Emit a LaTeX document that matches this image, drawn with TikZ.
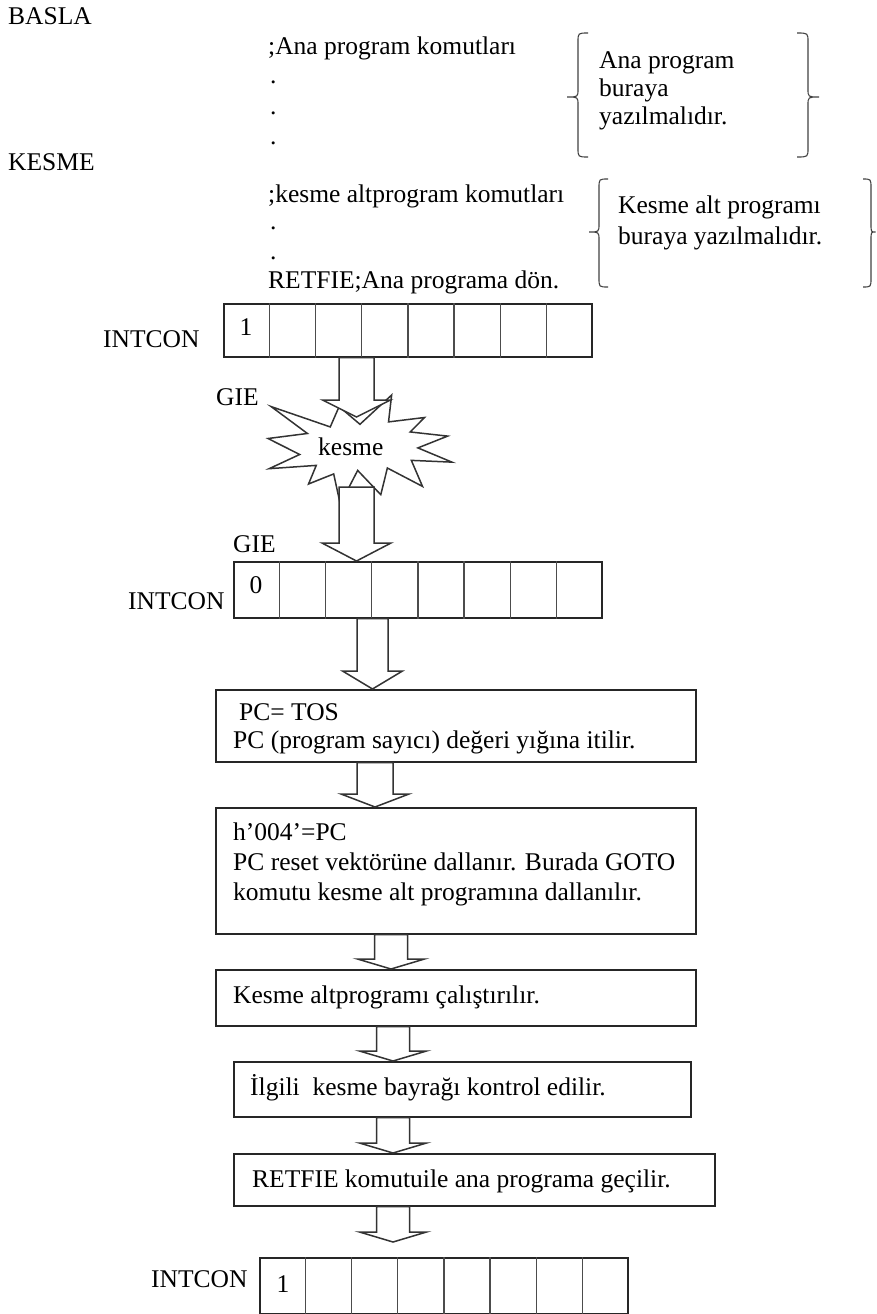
\documentclass[tikz,border=0pt]{standalone}
\usepackage{fontspec}
\setmainfont{Liberation Serif}
\usetikzlibrary{calc}

% hollow block arrow: x, start point, tip point, shaft half width, head half width, head length
\newcommand\blockarrow[6]{%
  \draw[hollow] let \p1=(#2), \p2=(#3) in
    (#1pt-#4pt,\y1) -- (#1pt+#4pt,\y1) -- (#1pt+#4pt,\y2+#6pt) -- (#1pt+#5pt,\y2+#6pt)
    -- (#1pt,\y2) -- (#1pt-#5pt,\y2+#6pt) -- (#1pt-#4pt,\y2+#6pt) -- cycle;}

% curly bracket: tip x, stem x, hook x, top y, middle y, bottom y
\newcommand\curlybr[6]{%
  \draw[bracket] (#3,#4) .. controls (#2,#4) .. (#2,#4+9) -- (#2,#5-8)
    .. controls (#2,#5) .. (#1,#5) .. controls (#2,#5) .. (#2,#5+8)
    -- (#2,#6-9) .. controls (#2,#6) .. (#3,#6);}

\begin{document}
\begin{tikzpicture}[x=1pt,y=-1pt,
  txt/.style={inner sep=0pt, anchor=base west, font=\fontsize{25.5}{30}\selectfont},
  digit/.style={inner sep=0pt, anchor=base, font=\fontsize{25.5}{30}\selectfont},
  box/.style={draw=black!85, line width=1.6pt, inner sep=0pt, anchor=north west},
  reg/.style={draw=black!85, line width=1.6pt, inner sep=0pt, anchor=north west,
    minimum width=368pt, minimum height=#1},
  cell/.style={draw=black!70, line width=1.4pt},
  hollow/.style={draw=black!80, line width=1.5pt, fill=white, line join=miter},
  bracket/.style={draw=black!75, line width=1.1pt},
  burst/.style={draw=black!80, line width=1.5pt, fill=white, line join=miter}]

\useasboundingbox (0,0) rectangle (876,1314);

% ---------- program listing ----------
\node[txt] (basla) at (8,25) {BASLA};
\node[txt] (anacmt) at (268,55) {;Ana program komutları};
\node[txt] (dot1) at (270,84) {.};
\node[txt] (dot2) at (270,114) {.};
\node[txt] (dot3) at (270,144) {.};
\node[txt] (kesmelbl) at (8,170) {KESME};
\node[txt] (kesmecmt) at (268,202) {;kesme altprogram komutları};
\node[txt] (dot4) at (270,229) {.};
\node[txt] (dot5) at (270,259) {.};
\node[txt] (retfie) at (268,288) {RETFIE;Ana programa dön.};

\curlybr{567}{578}{588}{33}{97}{157}
\curlybr{819}{808}{797}{33}{97}{157}
\node[txt] (notea) at (599,68) {Ana program};
\node[txt] (noteb) at (599,96) {buraya};
\node[txt] (notec) at (599,124) {yazılmalıdır.};

\curlybr{589}{599}{608}{179}{232}{287}
\curlybr{875.5}{871}{863}{179}{232}{287}
\node[txt] (noted) at (618,213) {Kesme alt programı};
\node[txt] (notee) at (618,244) {buraya yazılmalıdır.};

% ---------- INTCON before the interrupt ----------
\node[reg=53pt] (r1) at (223,303) {};
\foreach \i in {1,...,7}
  \draw[cell] ($(r1.north west)!\i/8!(r1.north east)$) -- ($(r1.south west)!\i/8!(r1.south east)$);
\node[txt] (lblr1) at (103,347) {INTCON};
\node[digit] (val1) at (246,335) {1};
\node[txt] (gie1) at (216,405) {GIE};

% ---------- interrupt burst ----------
\begin{scope}[shift={(268,395)}, x=0.0085185pt, y=-0.0050463pt]
  \draw[burst] (10800,5800) -- (14522,0) -- (14155,5325) -- (18380,4457) -- (16702,7315)
    -- (21097,8137) -- (17607,10475) -- (21600,13290) -- (16837,12942) -- (18145,18095)
    -- (14020,14457) -- (13247,19737) -- (10532,14935) -- (8485,21600) -- (7715,15627)
    -- (4762,17617) -- (5667,13937) -- (135,14587) -- (3722,11775) -- (0,8615)
    -- (4627,7617) -- (370,2295) -- (7312,6320) -- (8352,2295) -- cycle;
\end{scope}
\node[txt] (kesme) at (318,455) {kesme};
\coordinate (a1tip) at (356.5,417);
\coordinate (a2top) at (356.5,487);

% ---------- INTCON after the interrupt ----------
\node[reg=56pt] (r2) at (233,561) {};
\foreach \i in {1,...,7}
  \draw[cell] ($(r2.north west)!\i/8!(r2.north east)$) -- ($(r2.south west)!\i/8!(r2.south east)$);
\node[txt] (lblr2) at (128,609) {INTCON};
\node[digit] (val2) at (256,593) {0};
\node[txt] (gie2) at (233,552) {GIE};

% ---------- processing steps ----------
\node[box, minimum width=480pt, minimum height=72pt] (b1) at (215,689) {};
\node[txt] (t1a) at (239,720) {PC= TOS};
\node[txt] (t1b) at (233,748) {PC (program sayıcı) değeri yığına itilir.};

\node[box, minimum width=480pt, minimum height=126pt] (b2) at (215,807) {};
\node[txt] (t2a) at (233,840) {h'004'=PC};
\node[txt] (t2b) at (233,870) {PC reset vektörüne dallanır. Burada GOTO};
\node[txt] (t2c) at (233,900) {komutu kesme alt programına dallanılır.};

\node[box, minimum width=480pt, minimum height=56pt] (b3) at (215,969) {};
\node[txt] (t3) at (233,1003) {Kesme altprogramı çalıştırılır.};

\node[box, minimum width=457pt, minimum height=55pt] (b4) at (233,1061) {};
\node[txt] (t4) at (250,1095) {İlgili~ kesme bayrağı kontrol edilir.};

\node[box, minimum width=481pt, minimum height=52pt] (b5) at (233,1153) {};
\node[txt] (t5) at (252,1187) {RETFIE komutuile ana programa geçilir.};

% ---------- INTCON restored ----------
\node[reg=56pt] (r3) at (259,1257) {};
\foreach \i in {1,...,7}
  \draw[cell] ($(r3.north west)!\i/8!(r3.north east)$) -- ($(r3.south west)!\i/8!(r3.south east)$);
\node[txt] (lblr3) at (151,1287) {INTCON};
\node[digit] (val3) at (283,1292) {1};
\coordinate (a8tip) at (393,1242);

% ---------- flow arrows ----------
\blockarrow{356.5}{r1.south}{a1tip}{17.5}{34}{17}
\blockarrow{356.5}{a2top}{r2.north}{17.5}{34.5}{18}
\blockarrow{372.5}{r2.south}{b1.north}{15.5}{30}{18}
\blockarrow{375}{b1.south}{b2.north}{18}{34}{13}
\blockarrow{391}{b2.south}{b3.north}{16.5}{33.5}{10}
\blockarrow{393}{b3.south}{b4.north}{16.5}{33.5}{10}
\blockarrow{393}{b4.south}{b5.north}{16.5}{33.5}{10}
\blockarrow{393}{b5.south}{a8tip}{16.5}{33.5}{10}

\end{tikzpicture}
\end{document}
